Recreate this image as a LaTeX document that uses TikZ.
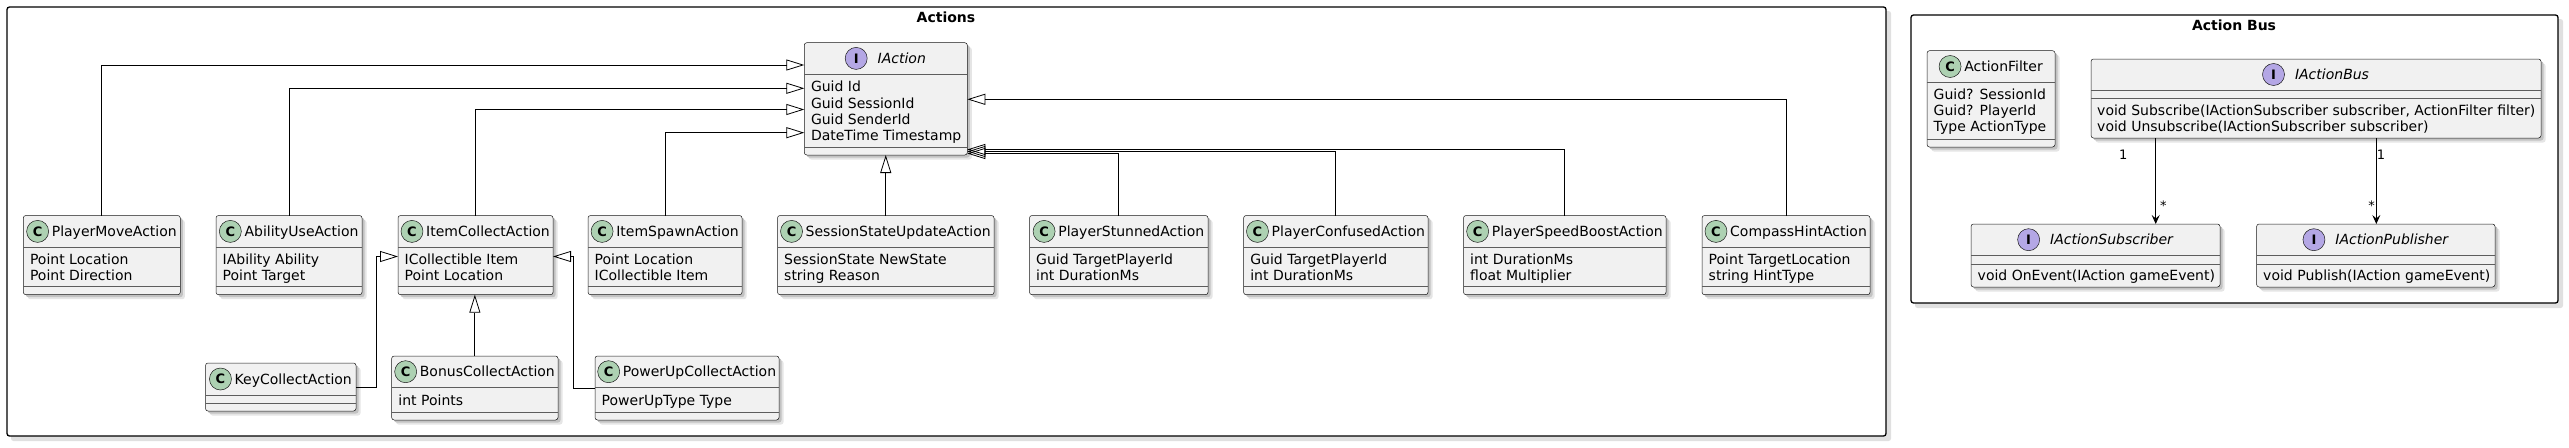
\documentclass[tikz,border=0pt]{standalone}
\usepackage{fontspec}
\setmainfont{DejaVu Sans}
\usetikzlibrary{arrows.meta}
\definecolor{clsfill}{HTML}{F1F1F1}
\definecolor{clsdraw}{HTML}{181818}
\definecolor{cgreen}{HTML}{ADD1B2}
\definecolor{ipurple}{HTML}{B4A7E5}
\newcommand{\fs}{\fontsize{14}{16}\selectfont}
% #1 name, #2 left, #3 top, #4 right, #5 bottom, #6 header line, #7 second line
\newcommand{\umlbox}[7]{%
  \fill[black!10,rounded corners=2.5pt] ({#2+4.5},{#3+4.5}) rectangle ({#4+4.5},{#5+4.5});
  \fill[black!24,rounded corners=2.5pt] ({#2+2.5},{#3+2.5}) rectangle ({#4+2.5},{#5+2.5});
  \node[clsbox,minimum width={(#4)-(#2)},minimum height={(#5)-(#3)},anchor=north west] (#1) at (#2,#3) {};
  \draw[sepl] (#2,#6) -- (#4,#6);
  \draw[sepl] (#2,#7) -- (#4,#7);
}
% class header: #1 prefix, #2 left, #3 right, #4 baseline, #5 text
\newcommand{\chead}[5]{%
  \node[hdr] (#1n) at ({(#2+#3)/2+12.5},#4) {#5};
  \node[circ,fill=cgreen] (#1c) at ([shift={(-14pt,5pt)}]#1n.base west) {C};
}
\newcommand{\ihead}[5]{%
  \node[hdr,font=\fs\itshape] (#1n) at ({(#2+#3)/2+16},#4) {#5};
  \node[circ,fill=ipurple] (#1c) at ([shift={(-21.3pt,5pt)}]#1n.base west) {I};
}
\newcommand{\fline}[4]{\node[fld] (#1) at (#2,#3) {#4};}
\begin{document}
\begin{tikzpicture}[x=1pt,y=-1pt,
  clsbox/.style={draw=clsdraw,fill=clsfill,line width=0.5pt,rounded corners=2.5pt,inner sep=0pt,outer sep=0pt},
  sepl/.style={draw=clsdraw!70,line width=0.5pt},
  hdr/.style={anchor=base,inner sep=0pt,font=\fs},
  fld/.style={anchor=base west,inner sep=0pt,font=\fs},
  circ/.style={circle,draw=clsdraw,line width=0.5pt,minimum size=22pt,inner sep=0pt,font=\fontsize{13}{13}\selectfont\bfseries},
  frm/.style={draw=black,line width=1.3pt,fill=white,rounded corners=2.5pt},
  ttl/.style={anchor=base,inner sep=0pt,font=\fs\bfseries},
  gen/.style={draw=black,line width=0.8pt,-{Triangle[open,length=18pt,width=11pt]}},
  assoc/.style={draw=black,line width=0.8pt,-{Stealth[length=9pt,width=8pt,inset=3.5pt]}},
  mult/.style={inner sep=0pt,font=\fontsize{13}{13}\selectfont}]
\useasboundingbox (0,0) rectangle (2569,447);
\fill[white] (0,0) rectangle (2569,447);

% frames
\fill[black!12,rounded corners=2.5pt] (11,11) rectangle (1891,441);
\draw[frm] (7,7) rectangle (1886,436);
\node[ttl] (tact) at (946,22) {Actions};
\fill[black!12,rounded corners=2.5pt] (1915,19) rectangle (2563,308);
\draw[frm] (1911,15) rectangle (2558,303);
\node[ttl] (tbus) at (2234,30) {Action Bus};

% IAction
\umlbox{ia}{804.3}{42.7}{967.3}{155}{74}{147.3}
\ihead{ia}{804.3}{967.3}{63.4}{IAction}
\fline{ia1}{810.8}{91.7}{Guid Id}
\fline{ia2}{810.8}{108}{Guid SessionId}
\fline{ia3}{810.8}{124.3}{Guid SenderId}
\fline{ia4}{810.8}{140.6}{DateTime Timestamp}

% row 1
\umlbox{pm}{23.3}{215.5}{180.3}{294.7}{247.3}{286.7}
\chead{pm}{23.3}{180.3}{236.4}{PlayerMoveAction}
\fline{pm1}{29.8}{264}{Point Location}
\fline{pm2}{29.8}{280.3}{Point Direction}

\umlbox{au}{216}{215.5}{362}{294.7}{247.3}{286.7}
\chead{au}{216}{362}{236.4}{AbilityUseAction}
\fline{au1}{222.5}{264}{IAbility Ability}
\fline{au2}{222.5}{280.3}{Point Target}

\umlbox{ic}{398}{215.5}{553}{294.7}{247.3}{286.7}
\chead{ic}{398}{553}{236.4}{ItemCollectAction}
\fline{ic1}{404.5}{264}{ICollectible Item}
\fline{ic2}{404.5}{280.3}{Point Location}

\umlbox{is}{588}{215.5}{742}{294.7}{247.3}{286.7}
\chead{is}{588}{742}{236.4}{ItemSpawnAction}
\fline{is1}{594.5}{264}{Point Location}
\fline{is2}{594.5}{280.3}{ICollectible Item}

\umlbox{ss}{777.5}{215.5}{994}{294.7}{247.3}{286.7}
\chead{ss}{777.5}{994}{236.4}{SessionStateUpdateAction}
\fline{ss1}{784}{264}{SessionState NewState}
\fline{ss2}{784}{280.3}{string Reason}

\umlbox{ps}{1029.5}{215.5}{1208}{294.7}{247.3}{286.7}
\chead{ps}{1029.5}{1208}{236.4}{PlayerStunnedAction}
\fline{ps1}{1036}{264}{Guid TargetPlayerId}
\fline{ps2}{1036}{280.3}{int DurationMs}

\umlbox{pc}{1243.6}{215.5}{1428}{294.7}{247.3}{286.7}
\chead{pc}{1243.6}{1428}{236.4}{PlayerConfusedAction}
\fline{pc1}{1250.1}{264}{Guid TargetPlayerId}
\fline{pc2}{1250.1}{280.3}{int DurationMs}

\umlbox{pb}{1463.5}{215.5}{1666}{294.7}{247.3}{286.7}
\chead{pb}{1463.5}{1666}{236.4}{PlayerSpeedBoostAction}
\fline{pb1}{1470}{264}{int DurationMs}
\fline{pb2}{1470}{280.3}{float Multiplier}

\umlbox{ch}{1702}{215.5}{1870}{294.7}{247.3}{286.7}
\chead{ch}{1702}{1870}{236.4}{CompassHintAction}
\fline{ch1}{1708.5}{264}{Point TargetLocation}
\fline{ch2}{1708.5}{280.3}{string HintType}

% row 2
\umlbox{kc}{205.5}{363}{356}{411}{395}{403}
\chead{kc}{205.5}{356}{384}{KeyCollectAction}

\umlbox{bc}{391.7}{356}{558}{420}{387.3}{412.7}
\chead{bc}{391.7}{558}{376.7}{BonusCollectAction}
\fline{bc1}{398.2}{405}{int Points}

\umlbox{pu}{595}{356}{779}{420}{387.3}{412.7}
\chead{pu}{595}{779}{376.7}{PowerUpCollectAction}
\fline{pu1}{601.5}{405}{PowerUpType Type}

% Action Bus
\umlbox{af}{1927}{50.7}{2055}{147}{82.3}{139}
\chead{af}{1927}{2055}{71.5}{ActionFilter}
\fline{af1}{1933.5}{99.3}{Guid? SessionId}
\fline{af2}{1933.5}{115.6}{Guid? PlayerId}
\fline{af3}{1933.5}{131.9}{Type ActionType}

\umlbox{ib}{2091}{59}{2541}{138}{90}{98}
\ihead{ib}{2091}{2541}{79.5}{IActionBus}
\fline{ib1}{2097}{115}{void Subscribe(IActionSubscriber subscriber, ActionFilter filter)}
\fline{ib2}{2097}{131.3}{void Unsubscribe(IActionSubscriber subscriber)}

\umlbox{isb}{1971}{224}{2220}{287}{255.3}{264}
\ihead{isb}{1971}{2220}{244.7}{IActionSubscriber}
\fline{isb1}{1977.5}{280.5}{void OnEvent(IAction gameEvent)}

\umlbox{ipb}{2256.6}{224}{2495}{287}{255.3}{264}
\ihead{ipb}{2256.6}{2495}{244.7}{IActionPublisher}
\fline{ipb1}{2263}{280.5}{void Publish(IAction gameEvent)}

% connector end points
\coordinate (ial1) at (804.3,65);
\coordinate (ial2) at (804.3,88.3);
\coordinate (ial3) at (804.3,109.5);
\coordinate (ial4) at (804.3,132.7);
\coordinate (iar1) at (967.3,99.3);
\coordinate (iar2) at (967.3,153.5);
\coordinate (iar3) at (967.3,151.5);
\coordinate (iar4) at (967.3,149.5);
\coordinate (kcor) at (376,256.5);
\coordinate (icl) at (398,256.5);
\coordinate (pcor) at (573.3,256.5);
\coordinate (icr) at (553,256.5);
\coordinate (bx1) at (2155.7,0);
\coordinate (bx2) at (2376.3,0);

% generalizations
\draw[gen] (pm.north) |- (ial1);
\draw[gen] (au.north) |- (ial2);
\draw[gen] (ic.north) |- (ial3);
\draw[gen] (is.north) |- (ial4);
\draw[gen] (ss.north) -- (ss.north |- ia.south);
\draw[gen] (ps.north) |- (iar2);
\draw[gen] (pc.north) |- (iar3);
\draw[gen] (pb.north) |- (iar4);
\draw[gen] (ch.north) |- (iar1);
\draw[gen] (kc.east) -| (kcor) -- (icl);
\draw[gen] (pu.west) -| (pcor) -- (icr);
\draw[gen] (bc.north) -- (bc.north |- ic.south);

% associations
\draw[assoc] (ib.south -| bx1) -- (isb.north -| bx1);
\draw[assoc] (ib.south -| bx2) -- (ipb.north -| bx2);
\node[mult] (m1) at (2123.3,155) {1};
\node[mult] (m2) at (2163.3,206) {*};
\node[mult] (m3) at (2381,155) {1};
\node[mult] (m4) at (2371.7,206) {*};
\end{tikzpicture}
\end{document}
